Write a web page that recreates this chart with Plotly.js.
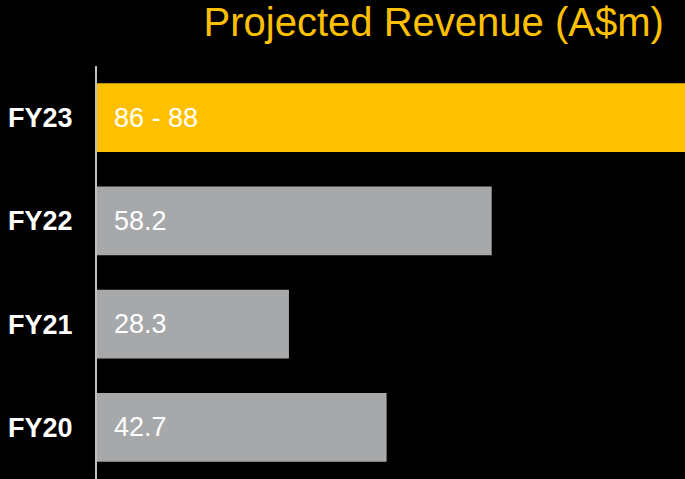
<!DOCTYPE html>
<html>
<head>
<meta charset="utf-8">
<script src="https://cdn.plot.ly/plotly-3.0.1.min.js"></script>
<style>
  html, body { margin: 0; padding: 0; background: #000; }
  #chart { width: 685px; height: 479px; }
</style>
</head>
<body>
<div id="chart"></div>
<script>
// values (FY23 is a guidance range, bar drawn at the top end)
const years = ['FY20', 'FY21', 'FY22', 'FY23'];
const revenue = [42.7, 28.3, 58.2, 88];
const labels = ['42.7', '28.3', '58.2', '86 - 88'];
const barColors = ['#A7A8AA', '#A7A8AA', '#A7A8AA', '#FFC000'];

const annotations = years.map((y, i) => ({
  x: 0, y: y, xref: 'x', yref: 'y',
  text: labels[i], showarrow: false,
  xanchor: 'left', xshift: 15, yshift: 0,
  font: { family: 'Arial, Liberation Sans, sans-serif', size: 27, color: '#FFFFFF' },
}));

Plotly.newPlot('chart', [{
  type: 'bar', orientation: 'h',
  x: revenue, y: years,
  marker: { color: barColors },
  hoverinfo: 'skip',
}], {
  width: 685, height: 479,
  paper_bgcolor: '#000', plot_bgcolor: '#000',
  margin: { t: 66, r: 0, b: 0, l: 97 },
  bargap: 0.335,
  showlegend: false,
  title: {
    text: 'Projected Revenue (A$m)',
    font: { family: 'Arial, Liberation Sans, sans-serif', size: 40, color: '#FFC000' },
    x: 0.964, xanchor: 'right', xref: 'paper',
    y: 0.955, yanchor: 'middle', yref: 'container',
  },
  xaxis: {
    range: [0, 86.7],
    showgrid: false, zeroline: false, showticklabels: false, showline: false, ticks: '',
  },
  yaxis: {
    type: 'category',
    showgrid: false, zeroline: false,
    showline: true, linecolor: '#BFBFBF', linewidth: 2,
    ticks: '', ticklabelstandoff: 17,
    tickfont: { family: 'Arial, Liberation Sans, sans-serif', size: 27, color: '#FFFFFF', weight: 'bold' },
  },
  annotations: annotations,
}, { displayModeBar: false, staticPlot: true });
</script>
</body>
</html>
